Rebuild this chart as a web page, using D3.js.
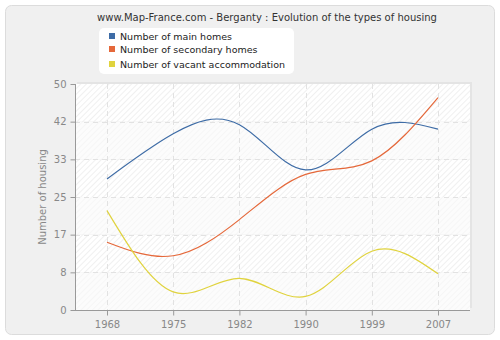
<!DOCTYPE html>
<html>
<head>
<meta charset="utf-8">
<script src="https://cdnjs.cloudflare.com/ajax/libs/d3/7.8.5/d3.min.js"></script>
<style>
  body { margin: 0; background: #fff; }
  text { font-family: "DejaVu Sans", Verdana, sans-serif; }
</style>
</head>
<body>
<div id="chart"></div>
<script>
var years = ['1968', '1975', '1982', '1990', '1999', '2007'];
var mainHomes = [29, 39, 41, 31, 40, 40];
var secondaryHomes = [15, 12, 20, 30, 33, 47];
var vacantHomes = [22, 4, 7, 3, 13, 8];
var yTicks = [0, 8.33, 16.67, 25, 33.33, 41.67, 50];
var yTickLabels = ['0', '8', '17', '25', '33', '42', '50'];
var seriesNames = ['Number of main homes', 'Number of secondary homes', 'Number of vacant accommodation'];
var seriesColors = ['#3e6ca6', '#e5683a', '#e0d33e'];

var W = 500, H = 340;
var plotLeft = 75, plotRight = 470, plotTop = 84, plotBottom = 310;

var svg = d3.select('#chart').append('svg')
  .attr('width', W).attr('height', H);

var defs = svg.append('defs');
var hatch = defs.append('pattern')
  .attr('id', 'hatch').attr('patternUnits', 'userSpaceOnUse')
  .attr('width', 4).attr('height', 4)
  .attr('patternTransform', 'rotate(45)');
hatch.append('rect').attr('width', 4).attr('height', 4).attr('fill', '#ffffff');
hatch.append('line').attr('x1', 0).attr('y1', 0).attr('x2', 0).attr('y2', 4)
  .attr('stroke', '#ececec').attr('stroke-width', 1.5);
var hatchLight = defs.append('pattern')
  .attr('id', 'hatchLight').attr('patternUnits', 'userSpaceOnUse')
  .attr('width', 4).attr('height', 4)
  .attr('patternTransform', 'rotate(45)');
hatchLight.append('rect').attr('width', 4).attr('height', 4).attr('fill', '#fcfcfc');
hatchLight.append('line').attr('x1', 0).attr('y1', 0).attr('x2', 0).attr('y2', 4)
  .attr('stroke', '#f5f5f5').attr('stroke-width', 1.5);

// outer frame
svg.append('rect')
  .attr('x', 5.5).attr('y', 5.5).attr('width', 489).attr('height', 329)
  .attr('rx', 6).attr('ry', 6)
  .attr('fill', '#f0f0f0').attr('stroke', '#dcdcdc');

svg.append('text')
  .attr('x', 267).attr('y', 21)
  .attr('text-anchor', 'middle').attr('font-size', 10).attr('fill', '#333')
  .text('www.Map-France.com - Berganty : Evolution of the types of housing');

var x = d3.scalePoint().domain(years).range([107, 438]);
var y = d3.scaleLinear().domain([0, 50]).range([plotBottom, plotTop]);

// plot shadow + bands
svg.append('rect').attr('x', plotLeft + 2).attr('y', plotTop - 2)
  .attr('width', plotRight - plotLeft).attr('height', plotBottom - plotTop)
  .attr('fill', '#e4e4e4');
var bands = svg.append('g');
for (var i = 0; i < yTicks.length - 1; i++) {
  bands.append('rect')
    .attr('x', plotLeft).attr('width', plotRight - plotLeft)
    .attr('y', y(yTicks[i + 1])).attr('height', y(yTicks[i]) - y(yTicks[i + 1]))
    .attr('fill', i % 2 === 0 ? 'url(#hatchLight)' : 'url(#hatch)');
}

// grid
var grid = svg.append('g').attr('stroke', '#e2e2e2').attr('stroke-dasharray', '5,4');
yTicks.slice(1, -1).forEach(function (t) {
  grid.append('line').attr('x1', plotLeft).attr('x2', plotRight)
    .attr('y1', Math.round(y(t)) + 0.5).attr('y2', Math.round(y(t)) + 0.5);
});
years.forEach(function (yr) {
  grid.append('line').attr('x1', Math.round(x(yr)) + 0.5).attr('x2', Math.round(x(yr)) + 0.5)
    .attr('y1', plotTop).attr('y2', plotBottom);
});

// axes
var yAxis = svg.append('g').attr('transform', 'translate(' + (plotLeft + 0.5) + ',0)')
  .call(d3.axisLeft(y).tickValues(yTicks).tickSize(5).tickPadding(4)
    .tickFormat(function (d, i) { return yTickLabels[i]; }));
var xAxis = svg.append('g').attr('transform', 'translate(0,' + (plotBottom + 0.5) + ')')
  .call(d3.axisBottom(x).tickSize(5).tickPadding(5));
[yAxis, xAxis].forEach(function (a) {
  a.select('.domain').attr('stroke', '#999');
  a.selectAll('.tick line').attr('stroke', '#999');
  a.selectAll('.tick text').attr('fill', '#888').attr('font-size', 10)
    .attr('font-family', '"DejaVu Sans", Verdana, sans-serif');
});
xAxis.select('.domain').attr('d', 'M' + plotLeft + ',0H' + plotRight);
yAxis.select('.domain').attr('d', 'M0,' + plotBottom + 'V' + plotTop);

svg.append('text')
  .attr('transform', 'translate(46,' + ((plotTop + plotBottom) / 2) + ') rotate(-90)')
  .attr('text-anchor', 'middle').attr('font-size', 10).attr('fill', '#888')
  .text('Number of housing');

// lines
var line = d3.line()
  .x(function (d, i) { return x(years[i]); })
  .y(function (d) { return y(d); })
  .curve(d3.curveNatural);
[mainHomes, secondaryHomes, vacantHomes].forEach(function (s, i) {
  svg.append('path').datum(s)
    .attr('d', line).attr('fill', 'none')
    .attr('stroke', seriesColors[i]).attr('stroke-width', 1.2);
});

// legend
var legend = svg.append('g');
legend.append('rect')
  .attr('x', 99).attr('y', 28).attr('width', 195).attr('height', 46)
  .attr('rx', 5).attr('ry', 5).attr('fill', '#fff');
var legendY = [36, 49, 64];
seriesNames.forEach(function (n, i) {
  legend.append('rect').attr('x', 109).attr('y', legendY[i] - 3).attr('width', 6).attr('height', 6)
    .attr('fill', seriesColors[i]);
  legend.append('text').attr('x', 120).attr('y', legendY[i] + 4)
    .attr('font-size', 9.5).attr('fill', '#222').text(n);
});
</script>
</body>
</html>
